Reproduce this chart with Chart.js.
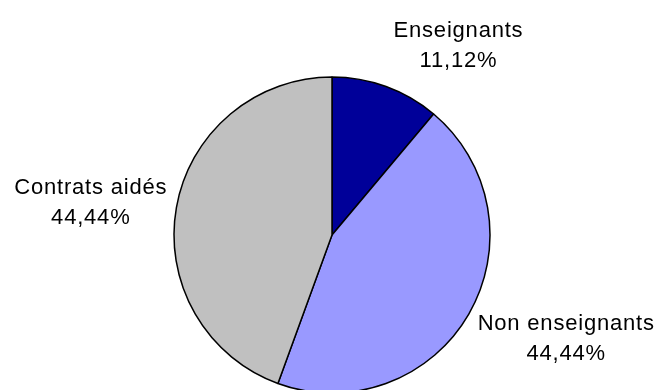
<!DOCTYPE html>
<html>
<head>
<meta charset="utf-8">
<script src="https://cdn.jsdelivr.net/npm/chart.js@4/dist/chart.umd.min.js"></script>
<style>
  html, body { margin: 0; padding: 0; background: #ffffff; }
  #wrap { width: 659px; height: 390px; }
</style>
</head>
<body>
<div id="wrap"><canvas id="pie" width="659" height="390"></canvas></div>
<script>
// Répartition du personnel
const categories = ['Enseignants', 'Non enseignants', 'Contrats aidés'];
const shares = [11.12, 44.44, 44.44];
const shareLabels = ['11,12%', '44,44%', '44,44%'];
const sliceColors = ['#000099', '#9999FF', '#C0C0C0'];

// Label box centre, relative to the point on the rim at the slice's mid-angle
const labelOffsets = [[72, -42], [97, 23.5], [-86, -6]];

const outsideLabels = {
  id: 'outsideLabels',
  afterDatasetsDraw(chart) {
    const ctx = chart.ctx;
    const meta = chart.getDatasetMeta(0);
    ctx.save();
    ctx.font = '22px "Liberation Sans", Arial, sans-serif';
    ctx.fillStyle = '#000000';
    ctx.textAlign = 'center';
    ctx.textBaseline = 'alphabetic';
    if ('letterSpacing' in ctx) ctx.letterSpacing = '0.8px';
    meta.data.forEach((arc, i) => {
      const p = arc.getProps(['x', 'y', 'startAngle', 'endAngle', 'outerRadius'], true);
      const mid = (p.startAngle + p.endAngle) / 2;
      const ex = p.x + Math.cos(mid) * p.outerRadius;
      const ey = p.y + Math.sin(mid) * p.outerRadius;
      const cx = ex + labelOffsets[i][0] + 0.4;
      const cy = ey + labelOffsets[i][1];
      ctx.fillText(categories[i], cx, cy - 7.5);
      ctx.fillText(shareLabels[i], cx, cy + 22.5);
    });
    ctx.restore();
  }
};

new Chart(document.getElementById('pie'), {
  type: 'pie',
  data: {
    labels: categories,
    datasets: [{
      data: shares,
      backgroundColor: sliceColors,
      borderColor: '#000000',
      borderWidth: 1.5,
      hoverOffset: 0,
      clip: false
    }]
  },
  options: {
    responsive: false,
    animation: false,
    radius: 158,
    layout: { padding: { top: 80, bottom: 0, left: 5, right: 0 } },
    events: [],
    plugins: {
      legend: { display: false },
      tooltip: { enabled: false },
      title: { display: false }
    }
  },
  plugins: [outsideLabels]
});
</script>
</body>
</html>
